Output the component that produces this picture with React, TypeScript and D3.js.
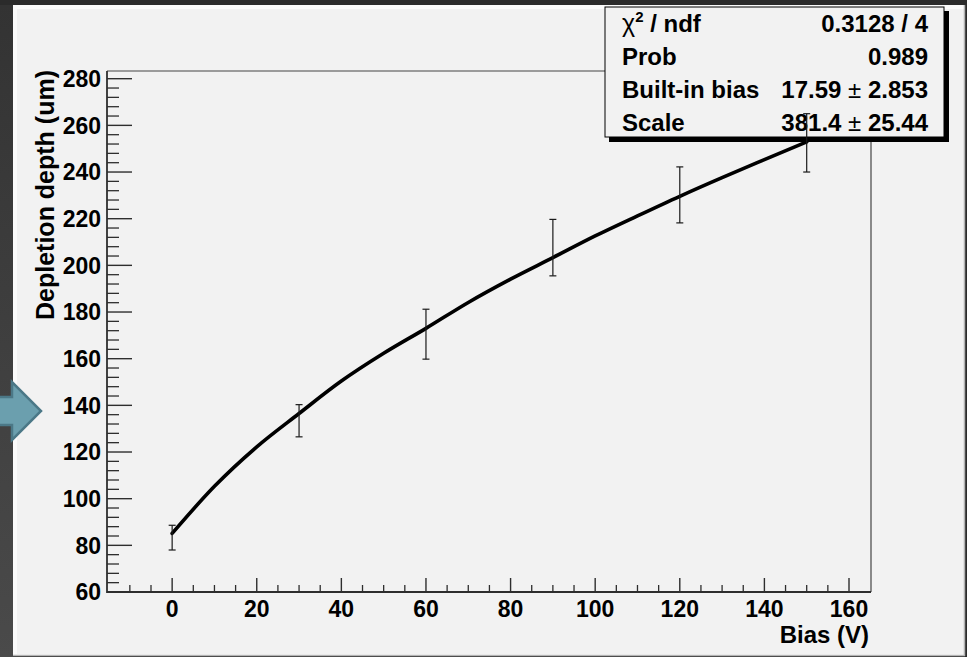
import React from "react";
import * as d3 from "d3";

// measured points (bias in V, depth in um, symmetric error)
const biasValues = [0, 30, 60, 90, 120, 150];
const depthValues = [83.3, 133.4, 170.5, 207.6, 230.2, 252.5];
const depthErrors = [5.3, 6.9, 10.7, 12.1, 12.0, 12.5];

// fit curve
const fitBias = [0, 10, 20, 30, 40, 50, 60, 70, 80, 90, 100, 110, 120, 130, 140, 150];
const fitDepth = [85.1, 105.3, 122.2, 136.5, 150.4, 162.3, 173, 184.1, 194.1, 203.3, 212.6, 221.2, 229.6, 237.6, 245.3, 252.9];

const xMajorTicks = [0, 20, 40, 60, 80, 100, 120, 140, 160];
const yMajorTicks = [60, 80, 100, 120, 140, 160, 180, 200, 220, 240, 260, 280];

const statLabels = ["χ² / ndf", "Prob", "Built-in bias", "Scale"];
const statValues = ["0.3128 / 4", "0.989", "17.59 ± 2.853", "381.4 ± 25.44"];

const W = 967;
const H = 657;
const font = "'Liberation Sans', Arial, Helvetica, sans-serif";

export default function App() {
  const left = 107, right = 871, top = 71, bottom = 592;

  const x = d3.scaleLinear().domain([-15.4, 165.2]).range([left, right]);
  const y = d3.scaleLinear().domain([60, 283.3]).range([bottom, top]);

  const xMinor = d3.range(-15, 165, 5).filter(v => v % 20 !== 0 && x(v) > left + 2);
  const yMinor = d3.range(60, 284, 4).filter(v => v % 20 !== 0);

  const line = d3.line<number>()
    .x((_, i) => x(fitBias[i]))
    .y(d => y(d))
    .curve(d3.curveMonotoneX);

  const axisColor = "#2e2e2e";

  // stats box
  const box = { x: 605, y: 7, w: 339, h: 130 };

  return (
    <svg width={W} height={H} style={{ position: "absolute", left: 0, top: 0 }} fontFamily={font}>
      <defs>
        <linearGradient id="sideGrad" x1="0" y1="0" x2="0" y2="1">
          <stop offset="0" stopColor="#333333" />
          <stop offset="1" stopColor="#4a4a4a" />
        </linearGradient>
      </defs>

      {/* dark slide background */}
      <rect x={0} y={0} width={W} height={H} fill="#2b2b2b" />
      <rect x={0} y={5} width={13} height={H - 5} fill="url(#sideGrad)" />

      {/* canvas panel */}
      <rect x={13} y={5} width={952} height={650} fill="#fbfbfb" />
      <rect x={17} y={9} width={947} height={645} fill="#f2f2f2" />
      <line x1={13} y1={655.5} x2={965} y2={655.5} stroke="#b4b4b4" strokeWidth={1.5} />
      <line x1={964.5} y1={5} x2={964.5} y2={656} stroke="#b4b4b4" strokeWidth={1.5} />

      {/* arrow decoration */}
      <path d="M -2 397 L 12 397 L 12 382 L 41 411 L 12 440 L 12 425 L -2 425 Z"
        fill="#6b9fae" stroke="#4b7887" strokeWidth={2.5} strokeLinejoin="miter" />

      {/* frame */}
      <line x1={left} y1={top} x2={right} y2={top} stroke="#444" strokeWidth={1} />
      <line x1={right} y1={top} x2={right} y2={bottom} stroke="#444" strokeWidth={1.2} />

      {/* y axis */}
      <line x1={left} y1={top} x2={left} y2={bottom + 1} stroke={axisColor} strokeWidth={1.8} />
      {yMajorTicks.map(v => (
        <g key={"ym" + v}>
          <line x1={left} x2={left + 25} y1={y(v)} y2={y(v)} stroke={axisColor} strokeWidth={1.4} />
          <text x={left - 6} y={y(v)} dy="0.36em" textAnchor="end" fontSize={23} fontWeight="bold" fill="#000">{v}</text>
        </g>
      ))}
      {yMinor.map(v => (
        <line key={"yn" + v} x1={left} x2={left + 12} y1={y(v)} y2={y(v)} stroke={axisColor} strokeWidth={1.3} />
      ))}

      {/* x axis */}
      <line x1={left} y1={bottom} x2={right} y2={bottom} stroke={axisColor} strokeWidth={1.8} />
      {xMajorTicks.map(v => (
        <g key={"xm" + v}>
          <line x1={x(v)} x2={x(v)} y1={bottom} y2={bottom - 14} stroke={axisColor} strokeWidth={1.4} />
          <text x={x(v)} y={617} textAnchor="middle" fontSize={23} fontWeight="bold" fill="#000">{v}</text>
        </g>
      ))}
      {xMinor.map(v => (
        <line key={"xn" + v} x1={x(v)} x2={x(v)} y1={bottom} y2={bottom - 7} stroke={axisColor} strokeWidth={1.3} />
      ))}

      {/* axis titles */}
      <text x={869} y={643} textAnchor="end" fontSize={24} fontWeight="bold" fill="#000">Bias (V)</text>
      <text transform="translate(54,70) rotate(-90)" textAnchor="end" fontSize={25} fontWeight="bold" fill="#000">
        Depletion depth (um)
      </text>

      {/* fit curve */}
      <path d={line(fitDepth) || ""} fill="none" stroke="#000" strokeWidth={3.6} strokeLinecap="round" />

      {/* stats box with shadow */}
      <rect x={box.x + 4} y={box.y + 4} width={box.w + 1} height={box.h + 1} fill="#000" />
      <rect x={box.x} y={box.y} width={box.w} height={box.h} fill="#f2f2f2" stroke="#000" strokeWidth={1} />
      {statLabels.map((s, i) => (
        <g key={s}>
          <text x={622} y={31.5 + i * 33} fontSize={24} fontWeight="bold" fill="#000">
            {i === 0 ? (
              <>
                <tspan fontWeight="normal" fontSize={25}>χ</tspan>
                <tspan dy={-10} fontSize={15}>2</tspan>
                <tspan dy={10}> / ndf</tspan>
              </>
            ) : s}
          </text>
          <text x={928} y={31.5 + i * 33} textAnchor="end" fontSize={24} fontWeight="bold" fill="#000">
            {statValues[i].includes("±") ? (
              <>
                {statValues[i].split("±")[0]}
                <tspan fontWeight="normal">±</tspan>
                {statValues[i].split("±")[1]}
              </>
            ) : statValues[i]}
          </text>
        </g>
      ))}

      {/* error bars */}
      {biasValues.map((b, i) => {
        const cx = x(b);
        const y1 = y(depthValues[i] + depthErrors[i]);
        const y2 = y(depthValues[i] - depthErrors[i]);
        return (
          <g key={"eb" + b} stroke="#1a1a1a" strokeWidth={1.2}>
            <line x1={cx} x2={cx} y1={y1} y2={y2} />
            <line x1={cx - 3.5} x2={cx + 3.5} y1={y1} y2={y1} />
            <line x1={cx - 3.5} x2={cx + 3.5} y1={y2} y2={y2} />
          </g>
        );
      })}
    </svg>
  );
}
